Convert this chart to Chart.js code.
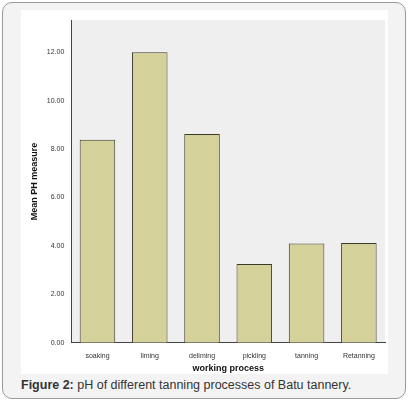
<!DOCTYPE html>
<html><head><meta charset="utf-8">
<script src="https://cdn.jsdelivr.net/npm/chart.js@4/dist/chart.umd.min.js"></script>
<style>
html,body{margin:0;padding:0;background:#fff;}
#outer{position:absolute;left:2px;top:2px;width:402px;height:395px;border:1px solid #9a9a9a;border-radius:10px;background:#f3f3f3;}
#box{position:absolute;left:21px;top:10px;width:367px;height:364px;background:#fff;}
#cap{position:absolute;left:21px;top:378px;font:12.5px "Liberation Sans",Arial,sans-serif;color:#333;}
</style></head><body>
<div id="outer"></div>
<div id="box"><canvas id="c" width="367" height="364"></canvas></div>
<div id="cap"><b style="font-weight:bold">Figure 2:</b> pH of different tanning processes of Batu tannery.</div>
<script>
const categories=["soaking","liming","deliming","pickling","tanning","Retanning"];
const meanPH=[8.38,12.0,8.62,3.25,4.10,4.12];
const yTicks=[0,2,4,6,8,10,12];
const bg={id:'bg',beforeDraw(c){const a=c.chartArea,x=c.ctx;x.save();x.fillStyle='#efefef';x.fillRect(a.left,a.top,a.right-a.left,a.bottom-a.top);x.restore();}};
new Chart(document.getElementById('c'),{type:'bar',
data:{labels:categories,datasets:[{data:meanPH,backgroundColor:'#d5d19b',borderColor:'#3a3a2a',borderWidth:1,barPercentage:0.68,categoryPercentage:1}]},
options:{responsive:false,animation:false,devicePixelRatio:1,
layout:{padding:{top:10,right:3,left:4,bottom:0}},
plugins:{legend:{display:false},tooltip:{enabled:false}},
scales:{
x:{grid:{display:false,drawTicks:true},border:{color:'#444'},ticks:{color:'#333',padding:1,font:{size:7,family:'Liberation Sans'}},
title:{display:true,text:'working process',color:'#111',font:{size:9,weight:'bold',family:'Liberation Sans'},padding:{top:2,bottom:0}}},
y:{min:0,max:13.33,afterBuildTicks(ax){ax.ticks=yTicks.map(v=>({value:v}));},
grid:{display:false,drawTicks:true,tickLength:4,tickColor:'#444'},border:{color:'#444'},
ticks:{color:'#333',font:{size:7,family:'Liberation Sans'},callback:v=>v.toFixed(2)},
title:{display:true,text:'Mean PH measure',color:'#111',font:{size:9,weight:'bold',family:'Liberation Sans'},padding:{bottom:4}}}}},
plugins:[bg]});
</script></body></html>
